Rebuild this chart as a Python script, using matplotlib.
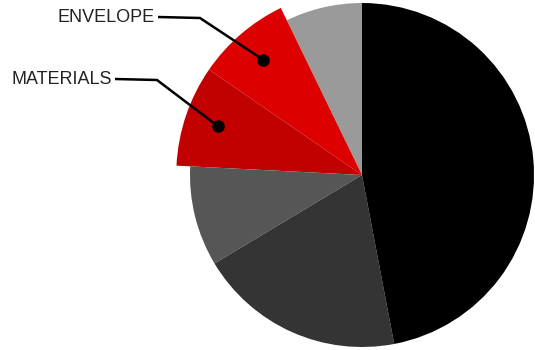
import numpy as np
import matplotlib
matplotlib.use('Agg')
import matplotlib.pyplot as plt

# slice shares, counter-clockwise from 12 o'clock
categories = ['OTHER', 'ENVELOPE', 'MATERIALS', 'SYSTEMS', 'OPERATIONS', 'ENERGY']
shares = [7.2, 8.2, 8.8, 9.4, 19.4, 47.0]
colors = ['#9a9a9a', '#dc0000', '#c20000', '#565656', '#343434', '#000000']
labelled = ['ENVELOPE', 'MATERIALS']

W, H = 535, 350
CX, CY, R = 362, 175, 172   # pie centre / radius in pixels


def px(x, y):
    # pixel (from top-left) -> data units of the pie
    return (x - CX) / R, (CY - y) / R


fig = plt.figure(figsize=(W / 100, H / 100), dpi=100)
ax = fig.add_axes([0, 0, 1, 1])
ax.set_xlim(-CX / R, (W - CX) / R)
ax.set_ylim(-(H - CY) / R, CY / R)
ax.axis('off')

wedges, _ = ax.pie(shares, colors=colors, startangle=90, counterclock=True,
                   radius=1.0, wedgeprops=dict(linewidth=0))
ax.set_xlim(-CX / R, (W - CX) / R)
ax.set_ylim(-(H - CY) / R, CY / R)
ax.set_aspect('auto')

# highlighted slices stick out a little further
for w, name in zip(wedges, categories):
    if name in labelled:
        w.set_radius(1.08)

# leader lines: label end, elbow, dot on the slice
callouts = {
    'ENVELOPE': dict(text=(155, 17), start=(158, 17), elbow=(200, 18)),
    'MATERIALS': dict(text=(112, 79), start=(115, 79), elbow=(157, 80)),
}
for w, name in zip(wedges, categories):
    if name not in callouts:
        continue
    c = callouts[name]
    mid = np.deg2rad((w.theta1 + w.theta2) / 2)
    dot = (0.885 * np.cos(mid), 0.885 * np.sin(mid))
    x0, y0 = px(*c['start'])
    x1, y1 = px(*c['elbow'])
    ax.plot([x0, x1, dot[0]], [y0, y1, dot[1]], color='black', lw=1.8,
            solid_capstyle='butt', solid_joinstyle='miter')
    ax.plot(dot[0], dot[1], 'o', color='black', ms=8)
    tx, ty = px(*c['text'])
    ax.text(tx, ty, name, ha='right', va='center', fontsize=13,
            family='Liberation Sans', color='#222222')

fig.savefig('out.png', dpi=100)
